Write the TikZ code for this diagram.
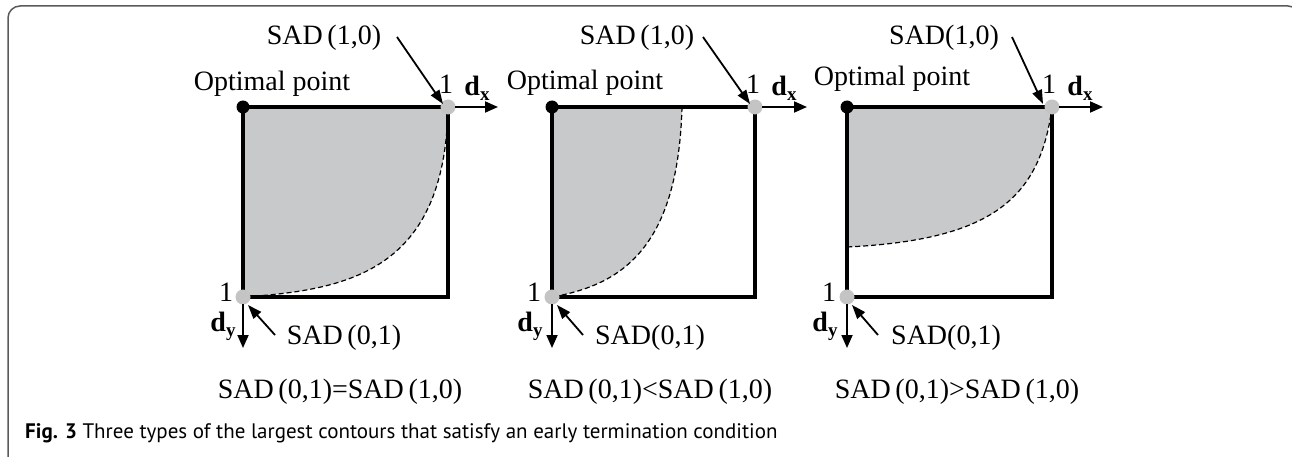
\documentclass[tikz,border=0pt]{standalone}
\usepackage{fontspec}
\setmainfont{Liberation Serif}
\newfontfamily\capfont{PT Sans}
\usetikzlibrary{arrows.meta}
\definecolor{fillgray}{RGB}{200,201,203}
\definecolor{dotgray}{RGB}{196,196,196}
\definecolor{framegray}{RGB}{90,90,90}
\tikzset{
  sq/.style={line width=4pt, line join=miter},
  ar/.style={line width=1.8pt, -{Triangle[length=13pt,width=11pt]}},
  ptr/.style={line width=1.8pt, -{Triangle[length=14pt,width=10pt]}},
  curve/.style={dashed, line width=1.2pt, dash pattern=on 5pt off 3pt},
  lbl/.style={font=\fontsize{28}{30}\selectfont, inner sep=0pt},
  num/.style={font=\fontsize{28}{30}\selectfont, inner sep=0pt},
  dd/.style={font=\fontsize{28}{30}\selectfont\bfseries, inner sep=0pt},
  gdot/.style={circle, fill=dotgray, minimum size=15pt, inner sep=0pt},
  bdot/.style={circle, fill=black, minimum size=13pt, inner sep=0pt},
}
\newcommand{\subx}[1]{\raisebox{-5pt}{\fontsize{19}{20}\selectfont\bfseries #1}}
\begin{document}
\begin{tikzpicture}[x=1pt,y=-1pt]
\useasboundingbox (0,0) rectangle (1292,457);
\begin{scope}
\clip (0,0) rectangle (1292,457);
\draw[framegray, line width=1.5pt, rounded corners=12pt] (8,6) rectangle (1300,480);
\end{scope}

% ---------- Panel 1 ----------
\fill[fillgray] (243,107) -- (448,107) .. controls (445,270) and (350,290) .. (243,297) -- cycle;
\draw[curve] (448,107) .. controls (445,270) and (350,290) .. (243,297);
\draw[sq] (243,107) -- (448,107) -- (448,297) -- (243,297) -- cycle;
\node[bdot] (o1) at (243,107) {};
\node[gdot] (a1) at (448,107) {};
\node[gdot] (b1) at (243,297) {};
\coordinate (dx1) at (498,107);
\coordinate (dy1) at (243,348);
\draw[ar] (a1.center) ++(7,0) -- (dx1);
\draw[ar] (b1.center) ++(0,7) -- (dy1);
\node[lbl] (op1) at (272,84) {Optimal point};
\node[lbl] (s10a) at (324,38) {SAD\,(1,0)};
\node[num] (one1) at (446,84) {1};
\node[dd] (dxl1) at (477,88) {d\subx{x}};
\node[num] (oneb1) at (226,292) {1};
\node[dd] (dyl1) at (223,326) {d\subx{y}};
\node[lbl] (s01a) at (344,338) {SAD\,(0,1)};
\coordinate (p1s) at (397,37);
\draw[ptr] (p1s) -- (443,104);
\coordinate (q1s) at (275,335);
\draw[ptr] (q1s) -- (248,305);
\node[lbl] (c1) at (340,392) {SAD\,(0,1)=SAD\,(1,0)};

% ---------- Panel 2 ----------
\fill[fillgray] (552,107) -- (682,107) .. controls (678,250) and (620,285) .. (552,297) -- cycle;
\draw[curve] (682,107) .. controls (678,250) and (620,285) .. (552,297);
\draw[sq] (552,107) -- (755,107) -- (755,297) -- (552,297) -- cycle;
\node[bdot] (o2) at (552,107) {};
\node[gdot] (a2) at (755,107) {};
\node[gdot] (b2) at (552,297) {};
\coordinate (dx2) at (807,107);
\coordinate (dy2) at (552,348);
\draw[ar] (a2.center) ++(7,0) -- (dx2);
\draw[ar] (b2.center) ++(0,7) -- (dy2);
\node[lbl] (op2) at (585,83) {Optimal point};
\node[lbl] (s10b) at (637,38) {SAD\,(1,0)};
\node[num] (one2) at (753,84) {1};
\node[dd] (dxl2) at (784,88) {d\subx{x}};
\node[num] (oneb2) at (534,292) {1};
\node[dd] (dyl2) at (530,326) {d\subx{y}};
\node[lbl] (s01b) at (650,338) {SAD(0,1)};
\coordinate (p2s) at (703,37);
\draw[ptr] (p2s) -- (750,104);
\coordinate (q2s) at (583,335);
\draw[ptr] (q2s) -- (557,305);
\node[lbl] (c2) at (650,392) {SAD\,(0,1)<SAD\,(1,0)};

% ---------- Panel 3 ----------
\fill[fillgray] (847,107) -- (1052,107) .. controls (1040,200) and (990,240) .. (847,247) -- cycle;
\draw[curve] (1052,107) .. controls (1040,200) and (990,240) .. (847,247);
\draw[sq] (847,107) -- (1052,107) -- (1052,297) -- (847,297) -- cycle;
\node[bdot] (o3) at (847,107) {};
\node[gdot] (a3) at (1052,107) {};
\node[gdot] (b3) at (847,297) {};
\coordinate (dx3) at (1103,107);
\coordinate (dy3) at (847,348);
\draw[ar] (a3.center) ++(7,0) -- (dx3);
\draw[ar] (b3.center) ++(0,7) -- (dy3);
\node[lbl] (op3) at (892,79) {Optimal point};
\node[lbl] (s10c) at (944,38) {SAD(1,0)};
\node[num] (one3) at (1049,84) {1};
\node[dd] (dxl3) at (1080,88) {d\subx{x}};
\node[num] (oneb3) at (829,292) {1};
\node[dd] (dyl3) at (825,326) {d\subx{y}};
\node[lbl] (s01c) at (946,338) {SAD(0,1)};
\coordinate (p3s) at (1012,37);
\draw[ptr] (p3s) -- (1043,104);
\coordinate (q3s) at (878,335);
\draw[ptr] (q3s) -- (852,305);
\node[lbl] (c3) at (957,392) {SAD\,(0,1)>SAD\,(1,0)};

% ---------- Caption ----------
\node[anchor=west, inner sep=0pt, font=\capfont\fontsize{21}{24}\selectfont] (cap) at (25,433)
  {\textbf{Fig. 3} Three types of the largest contours that satisfy an early termination condition};
\end{tikzpicture}
\end{document}
